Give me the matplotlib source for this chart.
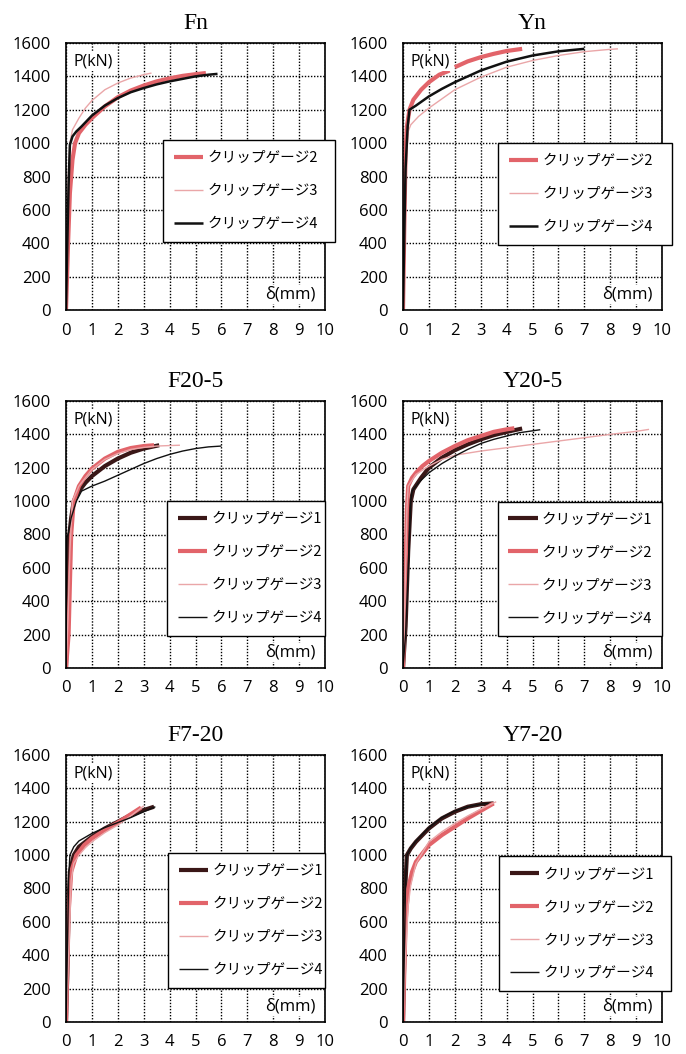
import matplotlib
matplotlib.use("Agg")
import matplotlib.pyplot as plt
import numpy as np

nan = np.nan

# gauge labels
GAUGE_LABELS = ["クリップゲージ1", "クリップゲージ2", "クリップゲージ3", "クリップゲージ4"]

# ---- Fn ----
fn_g2_d = [0, 0.08, 0.15, 0.25, 0.35, 0.5, 0.75, 1.0, 1.5, 2.0, 2.5, 3.0, 3.5, 4.0, 4.5, 5.0, 5.4]
fn_g2_p = [0, 400, 700, 900, 1000, 1060, 1110, 1150, 1220, 1275, 1315, 1345, 1370, 1388, 1403, 1413, 1420]
fn_g3_d = [0, 0.05, 0.1, 0.15, 0.25, 0.5, 0.75, 1.0, 1.5, 2.0, 2.5, 3.0, 3.3]
fn_g3_p = [0, 500, 850, 1000, 1080, 1150, 1210, 1255, 1320, 1360, 1390, 1410, 1420]
fn_g4_d = [0, 0.05, 0.1, 0.15, 0.25, 0.4, 0.6, 1.0, 1.5, 2.0, 2.5, 3.0, 3.5, 4.0, 4.5, 5.0, 5.5, 5.85]
fn_g4_p = [0, 400, 750, 990, 1040, 1070, 1100, 1165, 1225, 1270, 1305, 1330, 1352, 1370, 1385, 1400, 1410, 1415]

# ---- Yn ----
yn_g2_d = [0, 0.05, 0.1, 0.15, 0.25, 0.4, 0.7, 1.0, 1.4, 1.8, 1.9, 2.0, 2.5, 3.0, 3.5, 4.0, 4.6]
yn_g2_p = [0, 500, 950, 1100, 1200, 1260, 1320, 1365, 1410, 1435, nan, 1455, 1490, 1515, 1535, 1552, 1565]
yn_g3_d = [0, 0.05, 0.1, 0.15, 0.3, 0.6, 1.0, 1.5, 2.0, 3.0, 4.0, 5.0, 6.0, 7.0, 8.0, 8.3]
yn_g3_p = [0, 400, 800, 1050, 1110, 1160, 1210, 1265, 1320, 1395, 1455, 1495, 1525, 1548, 1562, 1565]
yn_g4_d = [0, 0.05, 0.1, 0.18, 0.25, 0.5, 1.0, 1.5, 2.0, 3.0, 4.0, 5.0, 6.0, 7.0]
yn_g4_p = [0, 450, 850, 1100, 1200, 1225, 1280, 1325, 1365, 1435, 1488, 1525, 1550, 1565]

# ---- F20-5 ----
f205_g1_d = [0, 0.05, 0.1, 0.2, 0.3, 0.5, 0.75, 1.0, 1.5, 2.0, 2.5, 3.0, 3.6]
f205_g1_p = [0, 400, 760, 900, 1000, 1060, 1110, 1150, 1210, 1255, 1290, 1315, 1335]
f205_g2_d = [0, 0.1, 0.15, 0.2, 0.3, 0.5, 0.75, 1.0, 1.5, 2.0, 2.5, 3.0, 3.4]
f205_g2_p = [0, 200, 500, 800, 1000, 1090, 1150, 1195, 1255, 1295, 1318, 1330, 1335]
f205_g3_d = [0, 0.08, 0.15, 0.25, 0.5, 1.0, 1.5, 2.0, 2.5, 3.0, 3.5, 4.0, 4.4]
f205_g3_p = [0, 300, 700, 1000, 1090, 1190, 1250, 1285, 1310, 1322, 1330, 1333, 1335]
f205_g4_d = [0, 0.03, 0.1, 0.2, 0.4, 0.6, 1.0, 1.5, 2.0, 2.5, 3.0, 3.5, 4.0, 4.5, 5.0, 5.5, 6.0]
f205_g4_p = [0, 780, 810, 900, 1000, 1060, 1090, 1120, 1155, 1190, 1225, 1255, 1280, 1300, 1315, 1325, 1330]

# ---- Y20-5 ----
y205_g1_d = [0, 0.1, 0.2, 0.3, 0.4, 0.7, 1.0, 1.5, 2.0, 2.5, 3.0, 3.5, 4.0, 4.6]
y205_g1_p = [0, 250, 700, 1000, 1070, 1140, 1200, 1260, 1305, 1340, 1370, 1395, 1415, 1435]
y205_g2_d = [0, 0.05, 0.1, 0.15, 0.2, 0.35, 0.5, 0.75, 1.0, 1.5, 2.0, 2.5, 3.0, 3.5, 4.0, 4.3]
y205_g2_p = [0, 250, 600, 950, 1090, 1140, 1170, 1210, 1240, 1290, 1330, 1365, 1390, 1415, 1430, 1437]
y205_g3_d = [0, 0.05, 0.1, 0.15, 0.2, 0.5, 1.0, 1.5, 2.0, 3.0, 4.0, 5.0, 6.0, 7.0, 8.0, 9.0, 9.5]
y205_g3_p = [0, 250, 600, 950, 1090, 1160, 1210, 1250, 1275, 1300, 1320, 1340, 1360, 1380, 1400, 1418, 1430]
y205_g4_d = [0, 0.1, 0.2, 0.3, 0.35, 0.6, 1.0, 1.5, 2.0, 2.5, 3.0, 3.5, 4.0, 4.5, 5.3]
y205_g4_p = [0, 200, 600, 1000, 1060, 1110, 1170, 1225, 1270, 1310, 1345, 1370, 1390, 1410, 1428]

# ---- F7-20 ----
f720_g1_d = [0, 0.05, 0.1, 0.15, 0.3, 0.5, 1.0, 1.5, 2.0, 2.5, 3.0, 3.4]
f720_g1_p = [0, 300, 700, 900, 1000, 1050, 1110, 1160, 1200, 1240, 1270, 1290]
f720_g2_d = [0, 0.05, 0.1, 0.2, 0.4, 0.7, 1.0, 1.5, 2.0, 2.5, 2.9]
f720_g2_p = [0, 300, 650, 900, 1000, 1060, 1100, 1150, 1195, 1245, 1285]
f720_g3_d = [0, 0.1, 0.2, 0.3, 0.5, 0.75, 1.0, 1.5, 2.0, 2.5, 3.0]
f720_g3_p = [0, 400, 850, 950, 1000, 1045, 1080, 1135, 1180, 1235, 1295]
f720_g4_d = [0, 0.05, 0.1, 0.15, 0.3, 0.5, 1.0, 1.5, 2.0, 2.5, 3.0, 3.45]
f720_g4_p = [0, 400, 850, 1000, 1050, 1085, 1130, 1165, 1195, 1225, 1260, 1290]

# ---- Y7-20 ----
y720_g1_d = [0, 0.05, 0.1, 0.15, 0.3, 0.5, 1.0, 1.5, 2.0, 2.5, 3.0, 3.5]
y720_g1_p = [0, 400, 850, 1000, 1040, 1080, 1160, 1220, 1260, 1290, 1305, 1310]
y720_g2_d = [0, 0.05, 0.1, 0.2, 0.35, 0.5, 1.0, 1.5, 2.0, 2.5, 3.0, 3.5]
y720_g2_p = [0, 300, 600, 800, 900, 960, 1060, 1120, 1170, 1220, 1265, 1310]
y720_g3_d = [0, 0.1, 0.2, 0.3, 0.5, 1.0, 1.5, 2.0, 2.5, 3.0, 3.6]
y720_g3_p = [0, 400, 700, 820, 950, 1080, 1140, 1190, 1235, 1275, 1320]
y720_g4_d = [0, 0.05, 0.1, 0.15, 0.3, 0.5, 1.0, 1.5, 2.0, 2.5, 3.0, 3.3]
y720_g4_p = [0, 400, 850, 1000, 1045, 1085, 1165, 1225, 1265, 1290, 1305, 1310]

X_TICKS = list(range(0, 11))
Y_TICKS = list(range(0, 1601, 200))

# styles per gauge: (color, linewidth)
STYLE_G1 = ("#3a1717", 3.0)
STYLE_G2 = ("#e2646a", 3.0)
STYLE_G3 = ("#eaa6a8", 1.0)
STYLE_G4_THICK = ("#111111", 1.8)
STYLE_G4_THIN = ("#111111", 1.0)

CJK = ["Noto Sans CJK JP", "DejaVu Sans"]
TICK_FONT = "Open Sans"


def draw_panel(ax, title, curves, leg_x0, leg_w, leg_top):
    ax.set_xlim(0, 10)
    ax.set_ylim(0, 1600)
    ax.set_xticks(X_TICKS)
    ax.set_yticks(Y_TICKS)
    ax.tick_params(axis="y", length=0, pad=11, labelsize=12)
    ax.tick_params(axis="x", length=0, pad=9, labelsize=12)
    for lab in ax.get_xticklabels() + ax.get_yticklabels():
        lab.set_fontfamily(TICK_FONT)
    ax.grid(True, color="black", linestyle=(0, (1, 1.2)), linewidth=1.0)
    for sp in ax.spines.values():
        sp.set_color("black")
        sp.set_linewidth(1.2)

    for d, p, label, (color, lw) in curves:
        ax.plot(d, p, color=color, lw=lw, label=label, solid_capstyle="butt")

    ax.set_title(title, family="Liberation Serif", fontsize=17, pad=10)
    ax.text(0.03, 0.93, "P(kN)", transform=ax.transAxes, family=TICK_FONT,
            fontsize=11.5, va="center", ha="left",
            bbox=dict(facecolor="white", edgecolor="none", pad=1))
    ax.text(0.965, 0.058, "δ(mm)", transform=ax.transAxes, family=TICK_FONT,
            fontsize=12, va="center", ha="right",
            bbox=dict(facecolor="white", edgecolor="none", pad=1))

    leg = ax.legend(loc="upper left", bbox_to_anchor=(leg_x0, leg_top - 0.5, leg_w, 0.5),
                    mode="expand", borderaxespad=0, prop={"family": CJK, "size": 10.5},
                    frameon=True, fancybox=False, framealpha=1, edgecolor="black",
                    handlelength=2.0, handletextpad=0.3, labelspacing=1.3,
                    borderpad=0.75)
    leg.get_frame().set_linewidth(1.0)
    leg.set_clip_on(False)


fig = plt.figure(figsize=(6.86, 10.54), dpi=100)

col_left = [66 / 686, 403 / 686]
col_w = 259 / 686
row_bottom = [1 - 310 / 1054, 1 - 668 / 1054, 1 - 1022 / 1054]
row_h = 267 / 1054

axes = [[fig.add_axes([cl, rb, col_w, row_h]) for cl in col_left] for rb in row_bottom]

draw_panel(axes[0][0], "Fn", [
    (fn_g2_d, fn_g2_p, GAUGE_LABELS[1], STYLE_G2),
    (fn_g3_d, fn_g3_p, GAUGE_LABELS[2], STYLE_G3),
    (fn_g4_d, fn_g4_p, GAUGE_LABELS[3], STYLE_G4_THICK),
], 0.374, 0.666, 0.637)

draw_panel(axes[0][1], "Yn", [
    (yn_g2_d, yn_g2_p, GAUGE_LABELS[1], STYLE_G2),
    (yn_g3_d, yn_g3_p, GAUGE_LABELS[2], STYLE_G3),
    (yn_g4_d, yn_g4_p, GAUGE_LABELS[3], STYLE_G4_THICK),
], 0.367, 0.673, 0.625)

draw_panel(axes[1][0], "F20-5", [
    (f205_g1_d, f205_g1_p, GAUGE_LABELS[0], STYLE_G1),
    (f205_g2_d, f205_g2_p, GAUGE_LABELS[1], STYLE_G2),
    (f205_g3_d, f205_g3_p, GAUGE_LABELS[2], STYLE_G3),
    (f205_g4_d, f205_g4_p, GAUGE_LABELS[3], STYLE_G4_THIN),
], 0.39, 0.61, 0.625)

draw_panel(axes[1][1], "Y20-5", [
    (y205_g1_d, y205_g1_p, GAUGE_LABELS[0], STYLE_G1),
    (y205_g2_d, y205_g2_p, GAUGE_LABELS[1], STYLE_G2),
    (y205_g3_d, y205_g3_p, GAUGE_LABELS[2], STYLE_G3),
    (y205_g4_d, y205_g4_p, GAUGE_LABELS[3], STYLE_G4_THIN),
], 0.365, 0.635, 0.623)

draw_panel(axes[2][0], "F7-20", [
    (f720_g1_d, f720_g1_p, GAUGE_LABELS[0], STYLE_G1),
    (f720_g2_d, f720_g2_p, GAUGE_LABELS[1], STYLE_G2),
    (f720_g3_d, f720_g3_p, GAUGE_LABELS[2], STYLE_G3),
    (f720_g4_d, f720_g4_p, GAUGE_LABELS[3], STYLE_G4_THIN),
], 0.394, 0.606, 0.633)

draw_panel(axes[2][1], "Y7-20", [
    (y720_g1_d, y720_g1_p, GAUGE_LABELS[0], STYLE_G1),
    (y720_g2_d, y720_g2_p, GAUGE_LABELS[1], STYLE_G2),
    (y720_g3_d, y720_g3_p, GAUGE_LABELS[2], STYLE_G3),
    (y720_g4_d, y720_g4_p, GAUGE_LABELS[3], STYLE_G4_THIN),
], 0.37, 0.665, 0.62)

fig.savefig("out.png", dpi=100, facecolor="white")
